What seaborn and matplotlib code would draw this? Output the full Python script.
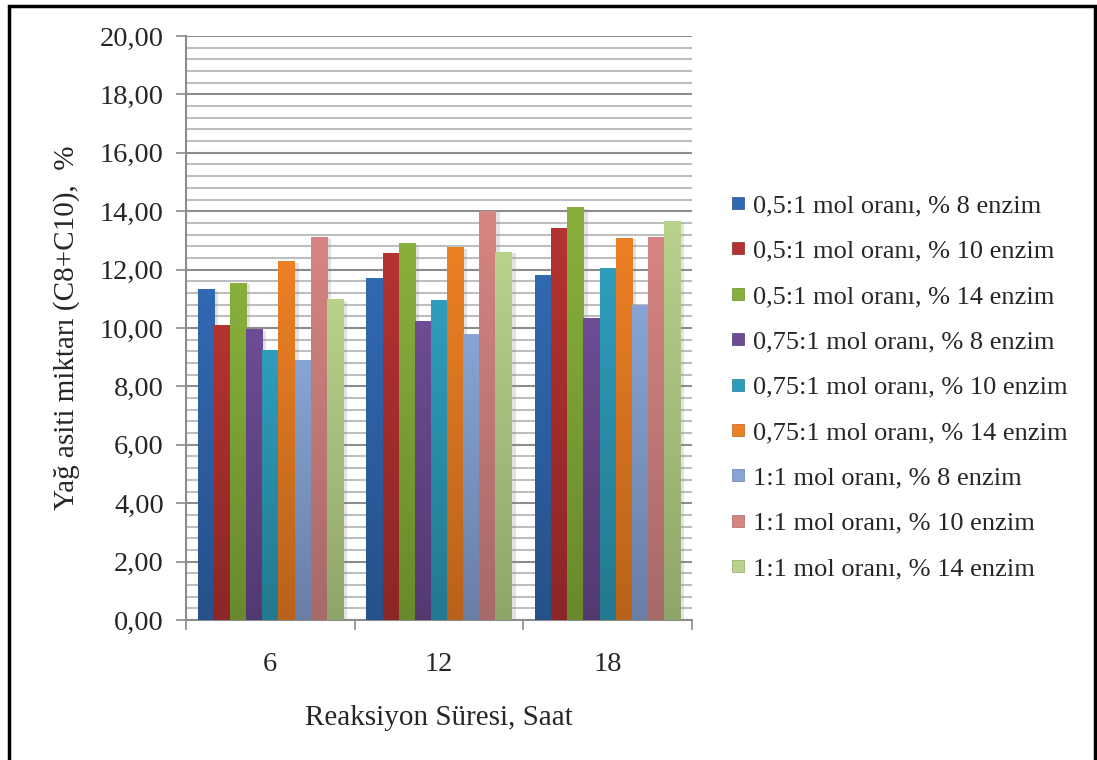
import numpy as np
import pandas as pd
import matplotlib
matplotlib.use("Agg")
import matplotlib.pyplot as plt
import matplotlib.patheffects as pe
from matplotlib.lines import Line2D
from matplotlib.patches import Rectangle
from matplotlib.ticker import MultipleLocator, FixedLocator
import seaborn as sns

# ---- data ----
categories = ["6", "12", "18"]
series = [
    "0,5:1 mol oranı, % 8 enzim",
    "0,5:1 mol oranı, % 10 enzim",
    "0,5:1 mol oranı, % 14 enzim",
    "0,75:1 mol oranı, % 8 enzim",
    "0,75:1 mol oranı, % 10 enzim",
    "0,75:1 mol oranı, % 14 enzim",
    "1:1 mol oranı, % 8 enzim",
    "1:1 mol oranı, % 10 enzim",
    "1:1 mol oranı, % 14 enzim",
]
s1 = [11.33, 11.71, 11.81]
s2 = [10.09, 12.56, 13.42]
s3 = [11.54, 12.90, 14.14]
s4 = [9.96, 10.23, 10.34]
s5 = [9.24, 10.95, 12.04]
s6 = [12.28, 12.76, 13.08]
s7 = [8.92, 9.78, 10.78]
s8 = [13.12, 14.01, 13.12]
s9 = [10.98, 12.60, 13.66]
values = [s1, s2, s3, s4, s5, s6, s7, s8, s9]
ytick_labels = ["0,00", "2,00", "4,00", "6,00", "8,00", "10,00", "12,00",
                "14,00", "16,00", "18,00", "20,00"]

top_colors = ["#3169B2", "#B43331", "#89B03C", "#6D4C93", "#2E9DBB",
              "#EC8024", "#87A4D4", "#D68582", "#B8D18B"]
bot_colors = ["#26518A", "#8B2626", "#688A2C", "#523A71", "#23798F",
              "#B9621B", "#6A7FA6", "#A66A68", "#8FA66B"]

rows = []
for name, vals in zip(series, values):
    for c, v in zip(categories, vals):
        rows.append({"Süre": c, "Seri": name, "Değer": v})
df = pd.DataFrame(rows)

# ---- figure ----
sns.set_style("white")
plt.rcParams["font.family"] = ["Liberation Serif", "DejaVu Serif"]
fig = plt.figure(figsize=(10.97, 7.60), dpi=100)
ax = fig.add_axes([186 / 1097, 1 - 620 / 760, (692 - 186) / 1097, (620 - 36) / 760])

sns.barplot(data=df, x="Süre", y="Değer", hue="Seri", order=categories,
            hue_order=series, palette=top_colors, width=0.86, gap=0,
            saturation=1, legend=False, ax=ax, zorder=3)

# gradient fill + soft shadow for each bar
patches = [p for p in ax.patches if isinstance(p, Rectangle)]
for i, bar in enumerate(patches):
    si = i // len(categories)
    bar.set_linewidth(0)
    bar.set_path_effects([pe.SimplePatchShadow(offset=(3, -1), shadow_rgbFace="#808080", alpha=0.22),
                          pe.Normal()])
    x, w, h = bar.get_x(), bar.get_width(), bar.get_height()
    c_top = np.array(matplotlib.colors.to_rgb(top_colors[si]))
    c_bot = np.array(matplotlib.colors.to_rgb(bot_colors[si]))
    t = np.linspace(0, 1, 64)[:, None]
    grad = (c_top * (1 - t) + c_bot * t)[:, None, :]
    im = ax.imshow(grad, extent=[x, x + w, 0, h], aspect="auto", zorder=3.5,
                   interpolation="bilinear")
    im.set_clip_path(bar)

ax.set_xlim(-0.5, 2.5)
ax.set_ylim(0, 20)

# grid
ax.yaxis.set_major_locator(MultipleLocator(2))
ax.yaxis.set_minor_locator(MultipleLocator(0.4))
ax.grid(which="major", axis="y", color="#8C8C8C", lw=1.5, zorder=0)
ax.grid(which="minor", axis="y", color="#BEBEBE", lw=1.5, zorder=0)
ax.grid(which="major", axis="x", visible=False)
ax.set_axisbelow(True)

ax.set_yticks(np.arange(0, 21, 2))
ax.set_yticklabels(ytick_labels, fontsize=20.5)
ax.tick_params(axis="y", which="major", direction="out", length=7, width=1.2,
               color="#8C8C8C", pad=9, left=True)
ax.tick_params(axis="y", which="minor", length=0)

# x ticks: marks at category boundaries, labels at centers
ax.xaxis.set_major_locator(FixedLocator([-0.5, 0.5, 1.5, 2.5]))
ax.xaxis.set_minor_locator(FixedLocator([0, 1, 2]))
ax.set_xticklabels([])
ax.set_xticklabels(categories, minor=True, fontsize=20.5)
ax.tick_params(axis="x", which="major", direction="out", length=7, width=1.2,
               color="#8C8C8C", bottom=True)
ax.tick_params(axis="x", which="minor", length=0, pad=23)

for side in ["top", "right"]:
    ax.spines[side].set_visible(False)
for side in ["left", "bottom"]:
    ax.spines[side].set_color("#8C8C8C")
    ax.spines[side].set_linewidth(1.5)

ax.set_xlabel("Reaksiyon Süresi, Saat", fontsize=21, labelpad=20)
ax.set_ylabel("Yağ asiti miktarı (C8+C10),  %", fontsize=21, labelpad=14)

# legend
handles = [Line2D([0], [0], marker="s", linestyle="none", markersize=9,
                  markerfacecolor=c, markeredgecolor=bc, markeredgewidth=0.5)
           for c, bc in zip(top_colors, bot_colors)]
fig.legend(handles, series, loc="center left", bbox_to_anchor=(718 / 1097, 1 - 387 / 760),
           frameon=False, fontsize=19, handlelength=0.55, handletextpad=0.28,
           labelspacing=0.83, borderpad=0)

# outer frame
fig.patches.append(Rectangle((9 / 1097, -0.05), (1095 - 9) / 1097, 1.05 - 6 / 760,
                             transform=fig.transFigure, fill=False,
                             edgecolor="black", lw=2.5))

fig.savefig("out.png", dpi=100, facecolor="white")
